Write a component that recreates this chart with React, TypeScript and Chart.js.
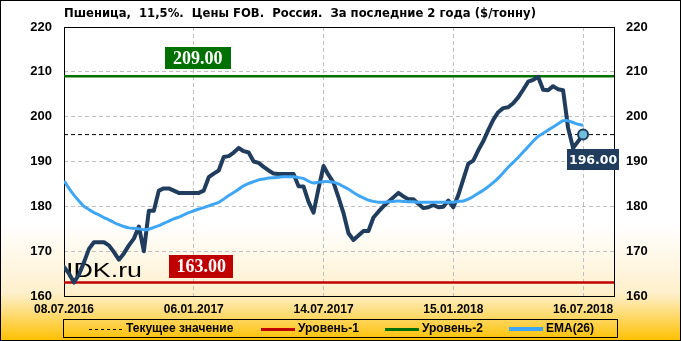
import React, { useEffect, useRef } from 'react';
import { Chart, registerables } from 'chart.js';

Chart.register(...registerables);

const titleText = 'Пшеница,  11,5%.  Цены FOB.  Россия.  За последние 2 года ($/тонну)';
const xTickIndex = [0, 26, 52, 78, 104];
const xTickLabels = ['08.07.2016', '06.01.2017', '14.07.2017', '15.01.2018', '16.07.2018'];
const yMin = 160;
const yMax = 220;
const yStep = 10;

const priceValues = [
  166.5, 165, 163, 164.8, 167.5, 170.5, 172, 172, 172, 171.3,
  169.8, 168.1, 169.5, 171.3, 172.8, 175.5, 170, 179, 179, 183.5,
  184, 184, 183.5, 183, 183, 183, 183, 183, 183.5, 186.5,
  187.3, 188, 191, 191.2, 192, 193, 192.3, 192, 190, 189.7,
  188.8, 188, 187.3, 187.2, 187.2, 187.2, 187.2, 184.5, 184.4, 181,
  178.6, 184, 189, 187, 185.3, 182, 178.5, 174, 172.5, 173.5,
  174.5, 174.5, 177.5, 178.8, 180, 181, 182, 183, 182.2, 181.6,
  181.6, 180.6, 179.6, 179.8, 180.3, 179.8, 179.9, 181.3, 179.8, 182.5,
  186, 189.5, 190.2, 192.5, 194.5, 197, 199.3, 201, 201.9, 202.1,
  203, 204.3, 206, 207.8, 208.2, 208.9, 206, 205.9, 206.8, 206.1,
  205.9, 197.5, 193, 194.5, 196,
];

const emaValues = [
  185.7, 184, 182.5, 181.2, 180, 179.3, 178.6, 178.1, 177.5, 177,
  176.4, 175.9, 175.5, 175.2, 175.1, 175, 174.8, 174.9, 175.3, 175.7,
  176.2, 176.7, 177.2, 177.6, 178.1, 178.6, 179, 179.4, 179.7, 180.1,
  180.5, 180.9, 181.6, 182.4, 183.1, 183.8, 184.6, 185.1, 185.5, 185.9,
  186.1, 186.3, 186.4, 186.5, 186.6, 186.6, 186.6, 186.4, 186.2, 185.6,
  185.2, 185.4, 185.5, 185.5, 185.4, 185, 184.4, 183.8, 183.1, 182.4,
  181.9, 181.4, 181.1, 180.9, 180.9, 181, 181.1, 181.2, 181.1, 181,
  181, 180.9, 180.9, 180.9, 180.9, 180.9, 180.9, 180.9, 180.9, 181.1,
  181.2, 181.6, 182.2, 182.9, 183.6, 184.4, 185.3, 186.3, 187.5, 188.7,
  189.8, 190.9, 192.1, 193.3, 194.5, 195.6, 196.3, 197, 197.7, 198.4,
  199.1, 199.1, 198.7, 198.3, 198.1,
];

const currentValue = 196;
const level1 = 163;
const level2 = 209;
const legendLabels = ['Текущее значение', 'Уровень-1', 'Уровень-2', 'EMA(26)'];

const NAVY = '#203D5E';
const BLUE = '#3FA6F5';
const RED = '#C00000';
const GREEN = '#007000';
const X_MAX = 110.2;

const tickFont = { family: 'Liberation Sans', size: 13, weight: 'bold' as const };
const xFont = { family: 'Liberation Sans', size: 12, weight: 'bold' as const };

export default function App() {
  const ref = useRef<HTMLCanvasElement>(null);

  useEffect(() => {
    document.body.style.margin = '0';
    const canvas = ref.current!;
    const lastIndex = priceValues.length - 1;

    const drawStretched = (ctx: any, text: string, x: number, y: number, targetW: number) => {
      const w = ctx.measureText(text).width;
      const k = targetW / w;
      ctx.save();
      ctx.translate(x, y);
      ctx.scale(k, 1);
      ctx.fillText(text, 0, 0);
      ctx.restore();
    };

    const decor = {
      id: 'decor',
      beforeDraw(chart: any) {
        const { ctx, width, height } = chart;
        const g = ctx.createLinearGradient(0, 0, 0, height);
        g.addColorStop(0, '#FFFFFF');
        g.addColorStop(0.66, '#FFFFFF');
        g.addColorStop(0.86, '#FEF0CC');
        g.addColorStop(1, '#FFC000');
        ctx.save();
        ctx.fillStyle = g;
        ctx.fillRect(0, 0, width, height);
        ctx.restore();
      },
      beforeDatasetsDraw(chart: any) {
        const { ctx, chartArea: a } = chart;
        ctx.save();
        ctx.strokeStyle = '#000';
        ctx.lineWidth = 1;
        ctx.strokeRect(Math.round(a.left) + 0.5, Math.round(a.top) + 0.5, Math.round(a.right - a.left), Math.round(a.bottom - a.top));
        // watermark
        ctx.fillStyle = '#000';
        ctx.font = '21px "Liberation Sans"';
        ctx.textAlign = 'left';
        ctx.textBaseline = 'alphabetic';
        drawStretched(ctx, 'IDK.ru', a.left + 2, a.bottom - 19, 76);
        ctx.restore();
      },
      afterDatasetsDraw(chart: any) {
        const { ctx } = chart;
        const xs = chart.scales.x;
        const ys = chart.scales.y;
        const box = (text: string, cx: number, cy: number, w: number, h: number, bg: string, font: string) => {
          ctx.fillStyle = bg;
          ctx.fillRect(Math.round(cx - w / 2), Math.round(cy - h / 2), w, h);
          ctx.fillStyle = '#FFFFFF';
          ctx.font = font;
          ctx.textAlign = 'center';
          ctx.textBaseline = 'middle';
          ctx.fillText(text, cx, cy + 1);
        };
        ctx.save();
        const serif = 'bold 18px "Liberation Serif"';
        box(level2.toFixed(2), xs.getPixelForValue(26.8), ys.getPixelForValue(level2) - 18, 66, 22, GREEN, serif);
        box(level1.toFixed(2), xs.getPixelForValue(27.5), ys.getPixelForValue(level1) - 16, 64, 23, RED, serif);
        const lx = xs.getPixelForValue(lastIndex);
        const ly = ys.getPixelForValue(priceValues[lastIndex]);
        box(currentValue.toFixed(2), lx + 10, ly + 25, 52, 21, NAVY, 'bold 12.5px "DejaVu Sans"');
        ctx.restore();
      },
      afterDraw(chart: any) {
        const { ctx, width, height, chartArea: a } = chart;
        ctx.save();
        // title
        ctx.fillStyle = '#000';
        ctx.font = 'bold 12px "DejaVu Sans"';
        ctx.textAlign = 'left';
        ctx.textBaseline = 'middle';
        drawStretched(ctx, titleText, a.left, 14, 472);
        // legend
        const lt = 319, lb = 337;
        ctx.strokeStyle = '#000';
        ctx.lineWidth = 1;
        ctx.strokeRect(63.5, lt + 0.5, 554, lb - lt);
        const cy = (lt + lb) / 2 + 0.5;
        const items = [
          { x: 89, color: '#000', w: 1, dash: [3, 3] },
          { x: 261, color: RED, w: 3, dash: [] },
          { x: 385, color: GREEN, w: 3, dash: [] },
          { x: 509, color: BLUE, w: 4, dash: [] },
        ];
        ctx.font = 'bold 12px "Liberation Sans"';
        items.forEach((it, i) => {
          ctx.beginPath();
          ctx.setLineDash(it.dash);
          ctx.strokeStyle = it.color;
          ctx.lineWidth = it.w;
          ctx.moveTo(it.x, Math.round(cy) + (it.w % 2 ? 0.5 : 0));
          ctx.lineTo(it.x + 34, Math.round(cy) + (it.w % 2 ? 0.5 : 0));
          ctx.stroke();
          ctx.setLineDash([]);
          ctx.fillStyle = '#000';
          ctx.textBaseline = 'middle';
          ctx.fillText(legendLabels[i], it.x + 37, cy);
        });
        // outer border
        ctx.strokeStyle = '#000';
        ctx.lineWidth = 1;
        ctx.strokeRect(0.5, 0.5, width - 1, height - 1);
        ctx.restore();
      },
    };

    const chart = new Chart(canvas, {
      type: 'line',
      data: {
        datasets: [
          {
            label: 'EMA(26)',
            data: emaValues.map((v, i) => ({ x: i, y: v })),
            borderColor: BLUE,
            borderWidth: 3,
            pointRadius: 0,
            tension: 0.3,
          },
          {
            label: 'price',
            data: priceValues.map((v, i) => ({ x: i, y: v })),
            borderColor: NAVY,
            borderWidth: 4,
            borderJoinStyle: 'round',
            borderCapStyle: 'round',
            tension: 0,
            pointRadius: (c: any) => (c.dataIndex === lastIndex ? 5 : 0),
            pointBackgroundColor: '#6FBFDB',
            pointBorderColor: NAVY,
            pointBorderWidth: 2,
          },
          {
            label: legendLabels[0],
            data: [{ x: 0, y: currentValue }, { x: X_MAX, y: currentValue }],
            borderColor: '#000',
            borderWidth: 1,
            borderDash: [4, 3],
            pointRadius: 0,
          },
          {
            label: legendLabels[1],
            data: [{ x: 0, y: level1 }, { x: X_MAX, y: level1 }],
            borderColor: RED,
            borderWidth: 2.5,
            pointRadius: 0,
          },
          {
            label: legendLabels[2],
            data: [{ x: 0, y: level2 }, { x: X_MAX, y: level2 }],
            borderColor: GREEN,
            borderWidth: 2.5,
            pointRadius: 0,
          },
        ] as any,
      },
      options: {
        responsive: false,
        animation: false,
        devicePixelRatio: 1,
        events: [],
        layout: { padding: { top: 27, left: 0, right: 0, bottom: 0 } },
        plugins: {
          legend: { display: false },
          title: { display: false },
          tooltip: { enabled: false },
        },
        scales: {
          x: {
            type: 'linear',
            min: 0,
            max: X_MAX,
            afterBuildTicks: (s: any) => {
              s.ticks = xTickIndex.map((v) => ({ value: v }));
            },
            afterFit: (s: any) => {
              s.height = 45;
            },
            grid: { color: '#BFBFBF', lineWidth: 1, drawTicks: false },
            border: { display: false, dash: [4, 3] },
            ticks: {
              autoSkip: false,
              maxRotation: 0,
              padding: 6,
              color: '#000',
              font: xFont,
              callback: (v: any) => {
                const k = xTickIndex.indexOf(Number(v));
                return k >= 0 ? xTickLabels[k] : '';
              },
            },
          },
          y: {
            position: 'left',
            min: yMin,
            max: yMax,
            afterFit: (s: any) => {
              s.width = 64;
            },
            grid: { color: '#BFBFBF', lineWidth: 1, drawTicks: false },
            border: { display: false, dash: [4, 3] },
            ticks: { stepSize: yStep, padding: 12, color: '#000', font: tickFont },
          },
          y2: {
            position: 'right',
            min: yMin,
            max: yMax,
            afterFit: (s: any) => {
              s.width = 67;
            },
            grid: { display: false, drawTicks: false },
            border: { display: false },
            ticks: { stepSize: yStep, padding: 12, color: '#000', font: tickFont },
          },
        },
      } as any,
      plugins: [decor],
    });
    return () => chart.destroy();
  }, []);

  return (
    <div style={{ position: 'absolute', left: 0, top: 0 }}>
      <canvas ref={ref} width={681} height={341} style={{ display: 'block', width: 681, height: 341 }} />
    </div>
  );
}
